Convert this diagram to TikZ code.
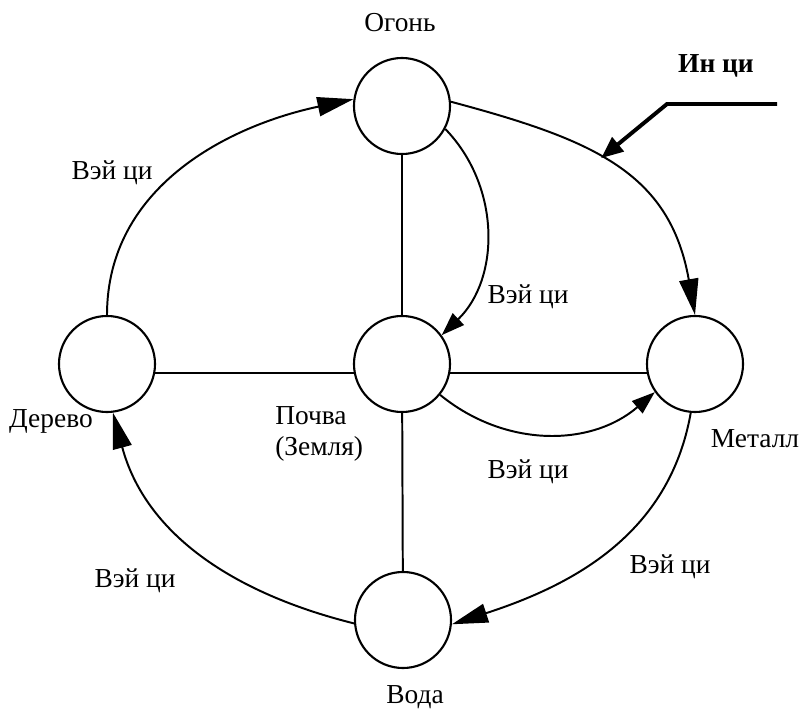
\documentclass[tikz,border=0pt]{standalone}
\usepackage{fontspec}
\setmainfont{Liberation Serif}
\usetikzlibrary{arrows.meta}

\begin{document}
\begin{tikzpicture}[x=0.025cm, y=-0.025cm,
    element/.style={draw, circle, line width=1.5pt, minimum size=2.4cm, inner sep=0pt},
    link/.style={line width=1.4pt},
    flow/.style={line width=1.4pt, -{Triangle[length=0.9cm, width=0.48cm]}},
    innerflow/.style={line width=1.4pt, -{Triangle[length=0.58cm, width=0.4cm]}},
    yinflow/.style={line width=2.8pt, -{Triangle[length=0.55cm, width=0.45cm]}},
    nametext/.style={font=\fontsize{19.5}{21.5}\selectfont, inner sep=0pt},
    yintext/.style={font=\fontsize{19.5}{21.5}\selectfont\bfseries, inner sep=0pt}]
    \useasboundingbox (0,0) rectangle (802,709);
    % Element circles
    \node[element] (fire) at (402,106) {};
    \node[element] (soil) at (402,364) {};
    \node[element] (wood) at (107,364) {};
    \node[element] (metal) at (695,364) {};
    \node[element] (water) at (403,620) {};
    % Cross lines
    \draw[link] (fire) -- (soil);
    \draw[link] (soil) -- (water);
    \draw[link] (wood.-11) -- (soil.191);
    \draw[link] (soil.-11) -- (metal.191);
    % Outer cycle
    \draw[flow] (wood.north) to[out=90, in=-168] (fire.172);
    \draw[flow] (fire.5) to[out=-15, in=100, looseness=1.15] coordinate[pos=0.44] (yinpoint) (metal.north);
    \draw[flow] (metal.-95) to[out=-100, in=18] (water.-5);
    \draw[flow] (water.184) to[out=166, in=-75] (wood.-83);
    % Inner arrows
    \draw[innerflow] (fire.-28) to[bend left=45] (soil.36);
    \draw[innerflow] (soil.-39) to[bend right=40] (metal.-145);
    % Yin qi pointer
    \coordinate (yinstart) at (777,104);
    \coordinate (yinknee) at (667,104);
    \draw[yinflow] (yinstart) -- (yinknee) -- (yinpoint);
    % Labels
    \node[nametext, anchor=base] (firename) at (400,32) {Огонь};
    \node[yintext, anchor=base] (yinname) at (716,73) {Ин ци};
    \node[nametext, anchor=base] (woodname) at (51,427) {Дерево};
    \node[nametext, anchor=base west, align=left] (soilname) at (275,455) {Почва\\(Земля)};
    \node[nametext, anchor=base] (metalname) at (755,447) {Металл};
    \node[nametext, anchor=base] (watername) at (415,703) {Вода};
    \node[nametext, anchor=base] (weitopleft) at (112,180) {Вэй ци};
    \node[nametext, anchor=base] (weicentre) at (528,303) {Вэй ци};
    \node[nametext, anchor=base] (weimiddle) at (528,478) {Вэй ци};
    \node[nametext, anchor=base] (weiright) at (670,573) {Вэй ци};
    \node[nametext, anchor=base] (weileft) at (135,587) {Вэй ци};
\end{tikzpicture}
\end{document}
